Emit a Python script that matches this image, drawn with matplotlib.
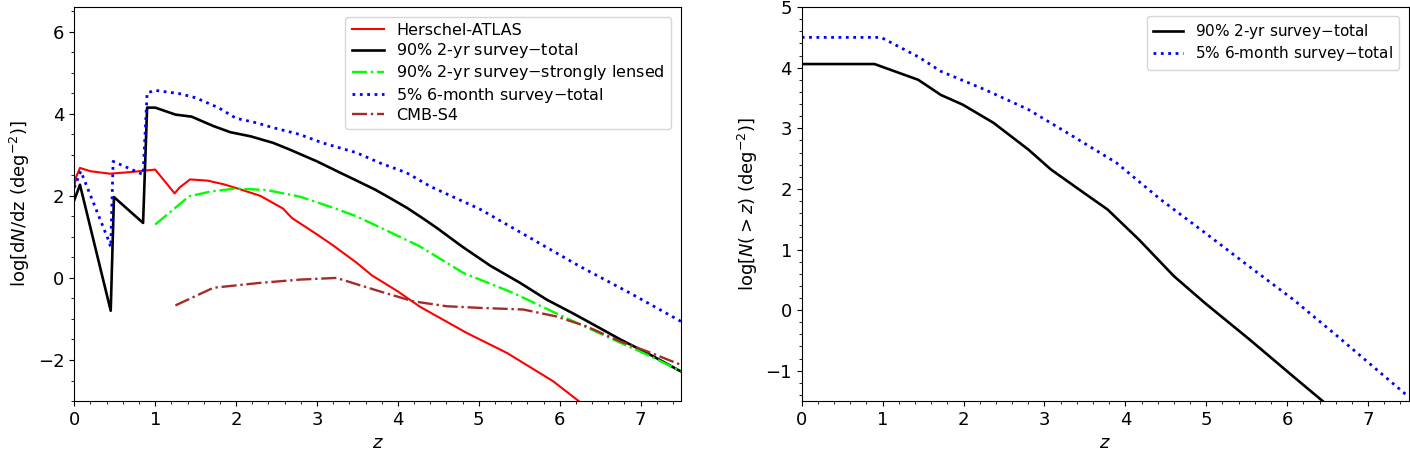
import matplotlib
matplotlib.use("Agg")
import matplotlib.pyplot as plt
from matplotlib.ticker import MultipleLocator

# Left panel: differential counts dN/dz
z_hatlas = [0.0, 0.02, 0.07, 0.2, 0.44, 0.7, 1.0, 1.24, 1.3, 1.43, 1.65, 1.85, 2.0, 2.3,
            2.58, 2.69, 3.0, 3.2, 3.49, 3.68, 4.0, 4.27, 4.85, 5.35, 5.92, 6.3]
y_hatlas = [2.2, 2.45, 2.68, 2.6, 2.54, 2.58, 2.64, 2.06, 2.2, 2.4, 2.37, 2.28, 2.19, 2.0,
            1.69, 1.46, 1.06, 0.79, 0.37, 0.06, -0.33, -0.7, -1.34, -1.83, -2.52, -3.1]

z_tot2yr = [0.0, 0.07, 0.45, 0.49, 0.85, 0.9, 1.0, 1.25, 1.45, 1.72, 1.93, 2.18, 2.46, 2.66,
            3.0, 3.29, 3.46, 3.72, 3.9, 4.11, 4.31, 4.48, 4.79, 5.14, 5.51, 5.84, 6.17, 6.42,
            6.75, 7.08, 7.5]
y_tot2yr = [1.9, 2.27, -0.8, 1.97, 1.34, 4.15, 4.15, 3.98, 3.93, 3.70, 3.55, 3.45, 3.29, 3.13,
            2.84, 2.56, 2.40, 2.15, 1.95, 1.71, 1.45, 1.22, 0.77, 0.30, -0.12, -0.53, -0.87, -1.14,
            -1.5, -1.83, -2.28]

z_lens2yr = [1.0, 1.42, 1.7, 2.0, 2.38, 2.79, 3.2, 3.49, 3.78, 4.27, 4.81, 5.43, 6.04, 6.66, 7.08, 7.5]
y_lens2yr = [1.3, 1.99, 2.11, 2.18, 2.14, 1.98, 1.71, 1.5, 1.23, 0.77, 0.12, -0.37, -0.94, -1.5, -1.87, -2.27]

z_tot6mo = [0.0, 0.08, 0.42, 0.45, 0.48, 0.85, 0.9, 1.0, 1.3, 1.5, 1.78, 2.0, 2.25, 2.46, 2.78,
            3.07, 3.49, 3.78, 4.11, 4.4, 5.02, 5.63, 6.25, 6.87, 7.5]
y_tot6mo = [2.2, 2.6, 0.93, 0.75, 2.84, 2.52, 4.51, 4.57, 4.49, 4.39, 4.15, 3.89, 3.78, 3.66, 3.5,
            3.29, 3.05, 2.80, 2.56, 2.23, 1.67, 0.98, 0.28, -0.37, -1.06]

z_cmbs4 = [1.25, 1.72, 2.3, 2.8, 3.24, 3.78, 4.19, 4.6, 5.01, 5.55, 5.96, 6.33, 6.75, 7.08, 7.5]
y_cmbs4 = [-0.67, -0.24, -0.12, -0.04, 0.0, -0.33, -0.57, -0.69, -0.73, -0.77, -0.94, -1.18, -1.55, -1.79, -2.12]

# Right panel: cumulative counts N(>z)
zc_2yr = [0.0, 0.9, 1.44, 1.72, 1.99, 2.37, 2.8, 3.08, 3.46, 3.78, 4.17, 4.6, 4.98, 5.53, 6.07, 6.5]
yc_2yr = [4.06, 4.06, 3.8, 3.55, 3.39, 3.09, 2.65, 2.32, 1.96, 1.66, 1.16, 0.56, 0.12, -0.48, -1.09, -1.57]
zc_6mo = [0.0, 0.98, 1.44, 1.72, 2.26, 2.8, 3.35, 3.89, 4.44, 4.98, 5.53, 6.07, 6.62, 7.5]
yc_6mo = [4.5, 4.5, 4.18, 3.94, 3.64, 3.31, 2.87, 2.43, 1.82, 1.28, 0.72, 0.18, -0.43, -1.43]

fig = plt.figure(figsize=(14.1, 4.57), dpi=100)
ax1 = fig.add_axes([0.0527, 0.1225, 0.4303, 0.862])
ax2 = fig.add_axes([0.5686, 0.1225, 0.4304, 0.862])

ax1.plot(z_hatlas, y_hatlas, color="red", lw=1.5, label="Herschel-ATLAS")
ax1.plot(z_tot2yr, y_tot2yr, color="black", lw=1.9, label="90% 2-yr survey$-$total")
ax1.plot(z_lens2yr, y_lens2yr, color="lime", lw=1.7, ls="-.", label="90% 2-yr survey$-$strongly lensed")
ax1.plot(z_tot6mo, y_tot6mo, color="blue", lw=2.0, ls=":", label="5% 6-month survey$-$total")
ax1.plot(z_cmbs4, y_cmbs4, color="brown", lw=1.7, ls="-.", label="CMB-S4")
ax1.set_xlim(0, 7.5)
ax1.set_ylim(-3, 6.6)
ax1.xaxis.set_minor_locator(MultipleLocator(0.2))
ax1.yaxis.set_minor_locator(MultipleLocator(0.5))
ax1.set_xlabel("$z$", fontsize=13)
ax1.set_ylabel("log[d$N$/dz (deg$^{-2}$)]", fontsize=13)
ax1.tick_params(labelsize=13)
ax1.legend(loc="upper right", fontsize=11.5, labelspacing=0.2, borderaxespad=0.6)

ax2.plot(zc_2yr, yc_2yr, color="black", lw=1.9, label="90% 2-yr survey$-$total")
ax2.plot(zc_6mo, yc_6mo, color="blue", lw=2.0, ls=":", label="5% 6-month survey$-$total")
ax2.set_xlim(0, 7.5)
ax2.set_ylim(-1.5, 5)
ax2.xaxis.set_minor_locator(MultipleLocator(0.2))
ax2.yaxis.set_minor_locator(MultipleLocator(0.2))
ax2.set_xlabel("$z$", fontsize=13)
ax2.set_ylabel("log[$N(>z)$ (deg$^{-2}$)]", fontsize=13)
ax2.tick_params(labelsize=13)
ax2.legend(loc="upper right", fontsize=11, labelspacing=0.2, borderaxespad=0.6)

fig.savefig("out.png", dpi=100)
